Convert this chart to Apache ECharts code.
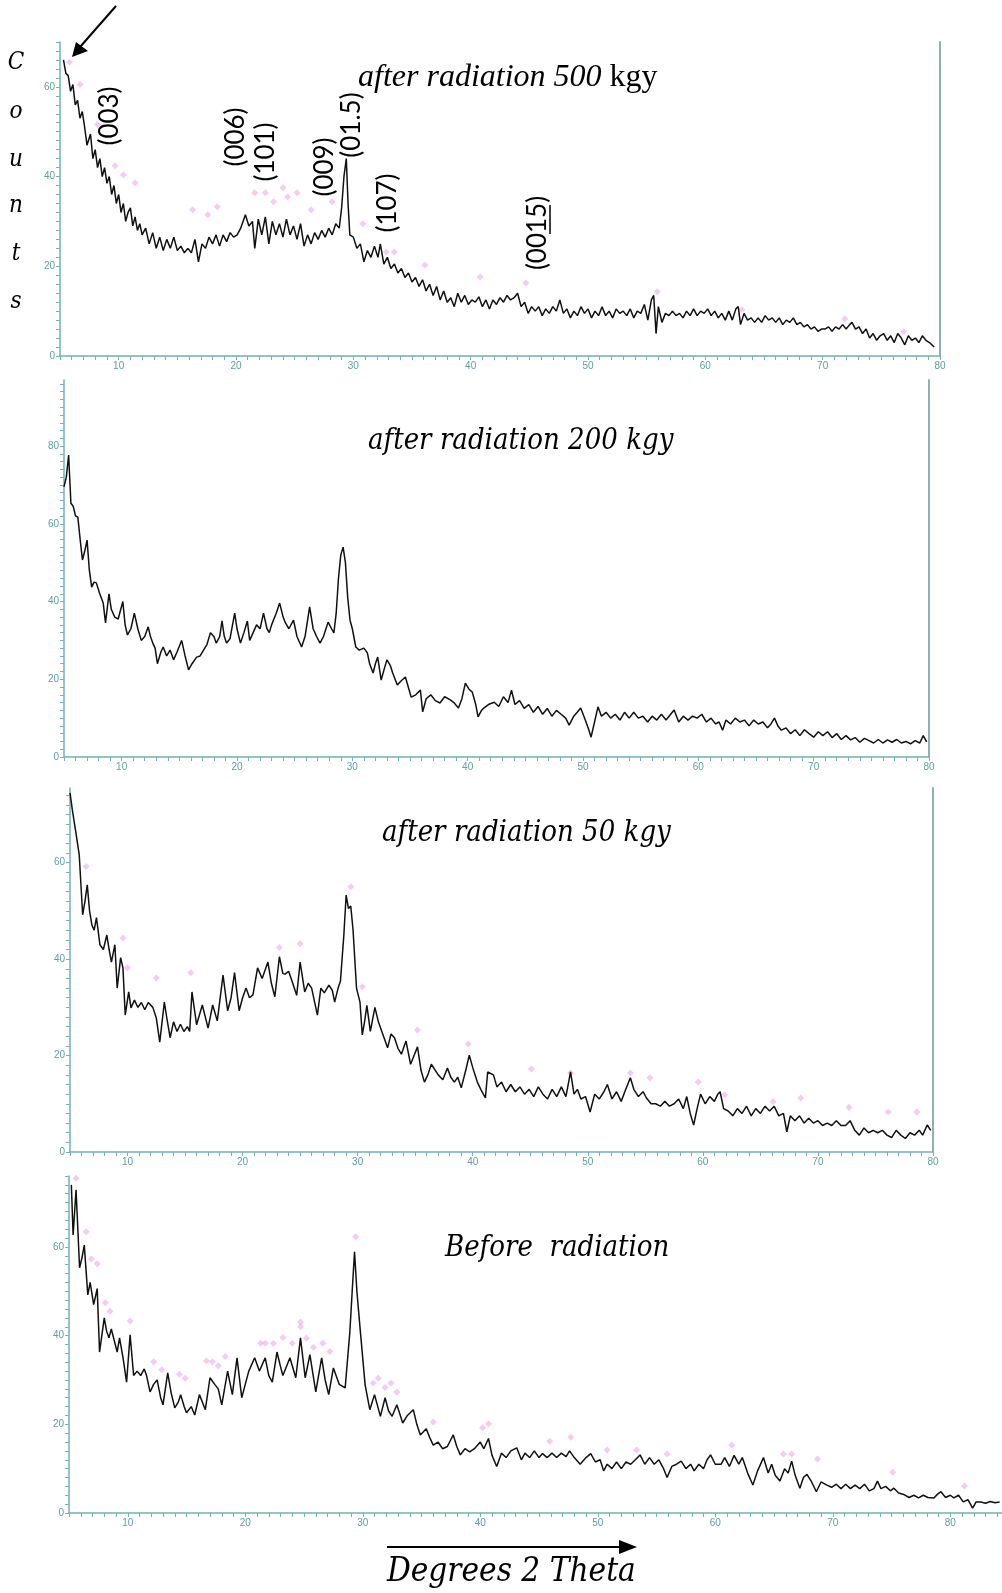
<!DOCTYPE html>
<html>
<head>
<meta charset="utf-8">
<script src="https://cdn.jsdelivr.net/npm/echarts@6/dist/echarts.min.js"></script>
<style>
  html, body { margin: 0; padding: 0; background: #ffffff; }
  #chart { width: 1002px; height: 1593px; }
</style>
</head>
<body>
<div id="chart"></div>
<script>
// XRD patterns, [2-theta (deg), counts]
const pattern500 = [
  [5.3,66],[5.5,63],[5.7,62.5],[5.9,59],[6.1,60.5],[6.3,56],[6.5,57],[6.7,53],[6.9,54.5],[7.1,51],[7.3,47],[7.6,49.5],[7.8,44],[8.0,46],[8.2,42],[8.4,44],[8.6,40],[8.8,42],[9.0,38.5],[9.2,40],[9.4,36],[9.6,38],[9.8,34],[10.0,36],[10.2,32],[10.4,34],[10.6,30],[10.8,32],[11.0,33],[11.2,29],[11.4,31],[11.6,28],[11.8,29.5],[12.0,27],[12.3,28.5],[12.6,25],[12.9,27.5],[13.2,24],[13.5,26.5],[13.8,23.5],[14.1,26],[14.4,24],[14.7,26.5],[15.0,23.5],[15.3,24.5],[15.6,23],[15.9,24],[16.2,23],[16.5,26],[16.8,21],[17.1,25],[17.4,24],[17.7,26.5],[18.0,25],[18.3,27],[18.6,24.5],[18.9,27],[19.2,25.5],[19.5,27.5],[19.8,26.5],[20.1,27],[20.4,28.5],[20.8,31.5],[21.1,29],[21.4,30],[21.6,24],[21.9,30.5],[22.2,27],[22.5,31],[22.8,25],[23.1,30],[23.4,27],[23.7,29.5],[24.0,26.5],[24.3,30.5],[24.6,27],[24.9,29],[25.2,26],[25.5,29.5],[25.8,24.5],[26.1,27],[26.4,25],[26.7,27.5],[27.0,26],[27.3,28],[27.6,26.5],[27.9,28.5],[28.2,27],[28.5,29.5],[28.8,28.5],[29.0,33],[29.2,40],[29.4,44],[29.55,34],[29.7,27],[30.0,26.5],[30.3,24],[30.6,25],[30.9,21],[31.2,23.5],[31.5,22],[31.8,24.5],[32.1,22],[32.3,25],[32.6,20.5],[32.9,22],[33.2,19.5],[33.5,20.5],[33.8,18.5],[34.1,19.5],[34.4,17.5],[34.7,18.5],[35.0,16.5],[35.3,17.5],[35.6,15.5],[35.9,17],[36.2,14.5],[36.5,16],[36.8,13.5],[37.1,15.5],[37.4,12.5],[37.7,14.5],[38.0,12],[38.3,13],[38.6,11],[38.9,14],[39.2,12],[39.5,13.5],[39.8,11.5],[40.1,12.5],[40.4,12],[40.7,13.2],[41.0,11],[41.3,12.5],[41.6,10.5],[41.9,12.5],[42.2,11.5],[42.5,13],[42.8,12],[43.1,13.5],[43.4,12.5],[43.7,13],[44.0,14],[44.3,11],[44.6,12],[44.9,9.5],[45.2,11],[45.5,10],[45.8,11],[46.1,9],[46.4,10.5],[46.7,9.5],[47.0,11],[47.3,10],[47.6,12.5],[47.9,9.5],[48.2,10.5],[48.5,8.5],[48.8,10],[49.1,9],[49.4,11],[49.7,9.5],[50.0,10.5],[50.3,8.5],[50.6,10],[50.9,9],[51.2,11],[51.5,9],[51.8,10],[52.1,8.5],[52.4,10.5],[52.7,9.5],[53.0,10],[53.3,9],[53.6,10.5],[53.9,8.5],[54.2,10],[54.5,9.5],[54.8,11.5],[55.1,8],[55.4,12.5],[55.6,13.5],[55.8,5],[56.0,11],[56.3,7.5],[56.6,9.5],[56.9,9],[57.2,10],[57.5,9],[57.8,9.5],[58.1,8.5],[58.4,10],[58.7,9],[59.0,10.5],[59.3,9],[59.6,10],[59.9,9.5],[60.2,10.5],[60.5,9],[60.8,10],[61.1,8.5],[61.4,9.5],[61.7,8],[62.0,10],[62.3,8],[62.6,10.5],[62.8,11],[63.0,7],[63.3,9.5],[63.6,8],[63.9,8.5],[64.2,7.5],[64.5,8.5],[64.8,7.5],[65.1,9],[65.4,8],[65.7,8.5],[66.0,7.5],[66.3,8.5],[66.6,7],[66.9,8],[67.2,7.5],[67.5,8.5],[67.8,7],[68.1,7.5],[68.4,6.5],[68.7,7],[69.0,6],[69.3,6.5],[69.6,5.5],[69.9,6],[70.2,6],[70.5,6.5],[70.8,5.5],[71.1,6.5],[71.4,6],[71.7,7],[72.0,6],[72.3,7],[72.5,7.5],[72.8,6],[73.1,6.5],[73.4,5],[73.7,6],[74.0,4],[74.3,5],[74.6,3.5],[74.9,4.5],[75.2,5],[75.5,3.5],[75.8,4.5],[76.1,3],[76.4,5],[76.7,4],[77.0,2.5],[77.3,4.5],[77.6,3.5],[77.9,4],[78.2,3],[78.5,4.5],[78.8,3.5],[79.1,3],[79.5,2]
];
const pattern200 = [
  [5.0,69.5],[5.2,72],[5.4,77.7],[5.6,65.3],[5.8,64.5],[6.0,62],[6.2,61.7],[6.4,56],[6.6,50.7],[6.8,53],[7.0,55.8],[7.2,48],[7.4,43.7],[7.6,45],[7.8,44.8],[8.1,42],[8.4,39.6],[8.6,34.5],[8.9,42],[9.1,38],[9.4,36],[9.7,35.5],[10.1,40],[10.3,34],[10.5,31.4],[10.8,33],[11.1,37],[11.4,33],[11.7,30],[12.0,31],[12.3,33.5],[12.5,31],[12.7,29.3],[12.9,28],[13.1,24],[13.4,27],[13.6,28.3],[13.9,26],[14.2,27.5],[14.5,25],[14.8,27],[15.2,30],[15.5,26],[15.8,22.4],[16.1,24],[16.5,25.7],[16.8,26],[17.1,27.5],[17.4,29],[17.7,32],[18.0,31],[18.2,29.3],[18.5,31],[18.7,35],[18.9,31],[19.1,29.3],[19.4,30.5],[19.8,37],[20.0,33],[20.3,29.3],[20.6,32],[20.9,35],[21.1,30],[21.4,32],[21.7,34],[22.0,33],[22.3,37],[22.6,33],[22.8,32],[23.0,34],[23.4,37],[23.7,39.6],[24.0,36],[24.2,34.5],[24.5,33],[24.9,35.2],[25.2,31],[25.6,28.3],[25.9,31],[26.3,38.6],[26.6,33],[26.9,31],[27.2,29.3],[27.5,31],[27.9,34.7],[28.2,33],[28.4,31.9],[28.6,37],[28.8,46],[29.0,52],[29.2,54],[29.4,50],[29.6,41],[29.8,35.2],[30.0,33],[30.3,28.3],[30.6,27.5],[31.0,28],[31.3,26.8],[31.5,24],[31.8,21.6],[32.0,24],[32.2,25.7],[32.5,19.8],[32.8,23],[33.0,25],[33.3,23.5],[33.5,21.6],[33.9,18.5],[34.2,19.5],[34.6,20.6],[34.9,17.5],[35.1,15.4],[35.5,16],[35.9,17.2],[36.1,11.6],[36.4,15],[36.8,16],[37.2,14.5],[37.6,13.9],[38.0,15.5],[38.5,14.7],[38.8,14],[39.2,12.6],[39.5,15],[39.8,19],[40.1,17.5],[40.4,16.7],[40.7,13.5],[40.9,10.3],[41.2,12],[41.4,12.6],[41.8,13.5],[42.3,14.1],[42.7,13],[43.1,15.5],[43.5,14],[43.8,17.2],[44.1,13.5],[44.5,14.5],[44.9,12.5],[45.3,13.5],[45.7,11.5],[46.1,13],[46.5,11],[46.9,12.5],[47.3,10.5],[47.7,12],[48.1,11],[48.5,10],[48.8,8.2],[49.2,10.5],[49.5,11.5],[49.8,12.6],[50.2,9.5],[50.5,7],[50.7,5.1],[51.0,9],[51.3,12.9],[51.6,10.5],[52.0,11.5],[52.4,10],[52.8,11],[53.2,9.5],[53.6,11.5],[54.0,10],[54.4,11.5],[54.8,10],[55.2,10.5],[55.6,9],[56.0,10.5],[56.4,9.5],[56.8,11],[57.2,9.5],[57.6,11],[57.9,12.1],[58.3,9],[58.7,10.5],[59.1,9.5],[59.5,10.5],[59.9,10],[60.3,11],[60.7,9],[61.1,10],[61.5,8.5],[61.8,9],[62.1,6.9],[62.4,9.5],[62.8,8.5],[63.2,10],[63.6,9],[64.0,9.5],[64.4,8],[64.8,9.5],[65.2,8.5],[65.6,9],[66.0,7.5],[66.3,8.5],[66.6,10],[66.9,8],[67.2,6.9],[67.6,7.5],[68.0,6],[68.4,7],[68.8,5.5],[69.2,7],[69.6,6],[70.0,5.1],[70.4,6.5],[70.8,5.5],[71.2,6.5],[71.6,5],[72.0,6],[72.4,4.5],[72.8,5.5],[73.2,4.4],[73.6,5],[74.0,3.8],[74.4,4.8],[74.8,4.2],[75.2,3.6],[75.6,4.5],[76.0,3.6],[76.4,4.4],[76.8,3.8],[77.2,4.5],[77.6,3.6],[78.0,4],[78.4,3.4],[78.8,4.2],[79.2,3.6],[79.5,5.5],[79.8,3.9]
];
const pattern50 = [
  [5.0,74.5],[5.2,71],[5.5,66.4],[5.8,61.7],[6.1,49.2],[6.3,52],[6.5,55.4],[6.7,50],[6.9,47.1],[7.1,46],[7.3,48.6],[7.6,43],[7.9,42],[8.2,45],[8.4,42],[8.6,39.4],[8.9,43],[9.1,34],[9.4,40.3],[9.6,38.2],[9.8,28.4],[10.1,33.2],[10.3,29.9],[10.6,31.5],[10.9,30],[11.2,31],[11.5,29.5],[11.8,31],[12.2,30],[12.5,27.8],[12.8,22.8],[13.2,31.1],[13.4,28],[13.7,23.7],[14.0,27],[14.3,25],[14.6,26.5],[14.9,25],[15.2,26],[15.4,25],[15.6,33.2],[16.0,26.4],[16.5,30.5],[17.0,25.7],[17.4,30.5],[17.8,27.2],[18.3,36.7],[18.7,29.3],[19.0,32],[19.3,37.2],[19.7,29.3],[20.0,32],[20.3,34],[20.6,32],[20.9,32.6],[21.3,38.2],[21.7,36],[22.2,39.4],[22.5,35],[22.8,32.2],[23.2,40.5],[23.5,37],[23.7,36.9],[24.0,37.5],[24.3,35.4],[24.7,32.5],[25.0,39.4],[25.4,33.2],[25.7,35],[26.0,34],[26.5,28.4],[26.8,34],[27.1,33],[27.5,34.6],[27.8,33.5],[28.0,31.1],[28.3,34],[28.5,35.4],[28.8,45],[29.0,53.3],[29.2,50.5],[29.4,51],[29.6,46],[29.9,34],[30.2,31.1],[30.4,24.3],[30.6,27],[30.8,30.4],[31.1,25],[31.5,30],[31.8,27],[32.1,25],[32.6,21.6],[32.9,24.5],[33.2,23.7],[33.5,21.5],[33.8,20.3],[34.2,23],[34.6,18.2],[34.9,20],[35.2,21.8],[35.5,17],[35.8,14.5],[36.1,16],[36.4,18.2],[37.0,16],[37.4,15],[37.8,17.4],[38.1,15.5],[38.4,14.5],[38.7,15.5],[39.0,13.3],[39.4,17],[39.7,20.1],[40.0,17.5],[40.4,14.5],[40.7,13],[41.1,11.2],[41.3,16.6],[41.8,16],[42.1,13.5],[42.5,14.5],[42.9,12.5],[43.3,14],[43.7,12.5],[44.1,13.5],[44.5,12],[44.9,13],[45.3,11.5],[45.7,13.5],[46.1,12],[46.5,11],[46.9,13],[47.3,11.5],[47.7,13.5],[48.1,11.5],[48.5,16.6],[48.8,12],[49.1,13],[49.4,11],[49.8,11.5],[50.2,8.3],[50.6,12],[51.0,11],[51.4,12.5],[51.7,14],[52.1,11],[52.5,12.5],[52.9,10.5],[53.3,13],[53.7,15.4],[54.0,13],[54.4,11.5],[54.8,12.5],[55.1,11.2],[55.5,10],[55.9,10],[56.3,9.5],[56.7,10.5],[57.1,9.5],[57.5,10],[57.9,11],[58.3,9],[58.6,11.5],[58.9,8],[59.2,5.6],[59.5,9],[59.8,12],[60.2,10],[60.6,11.5],[61.0,10.5],[61.3,12],[61.5,12.5],[61.8,9],[62.2,8.5],[62.6,7.5],[63.0,9],[63.4,8],[63.8,9.5],[64.2,7.5],[64.6,9],[65.0,8],[65.4,9.5],[65.8,8.5],[66.2,9.5],[66.6,7.5],[67.0,8],[67.3,4.2],[67.6,7.5],[68.0,6.5],[68.4,7.5],[68.8,6],[69.2,7],[69.6,6],[70.0,6.5],[70.4,5.5],[70.8,6],[71.2,5.5],[71.6,6.5],[72.0,5.5],[72.4,5.5],[72.8,6.5],[73.2,4.5],[73.6,3.5],[74.0,5],[74.4,4],[74.8,4.5],[75.2,4],[75.6,4.5],[76.0,3.5],[76.4,3],[76.8,4.5],[77.2,3.5],[77.6,2.8],[78.0,4],[78.4,3.5],[78.8,4.5],[79.1,3.5],[79.5,5.6],[79.8,4.5]
];
const patternBefore = [
  [5.2,74],[5.35,62.7],[5.6,72.9],[5.9,55.3],[6.1,57.5],[6.3,60.4],[6.6,49.2],[6.8,52],[7.1,47],[7.4,50.6],[7.6,36.3],[8.0,44],[8.2,41],[8.4,39.5],[8.6,41.5],[9.1,36.3],[9.3,39.5],[9.6,35],[9.9,29.5],[10.2,40.2],[10.5,31],[10.8,32],[11.1,31],[11.4,32.5],[11.6,31],[11.9,27.3],[12.2,29],[12.5,30],[12.8,26],[13.0,24.4],[13.4,31.6],[13.7,27],[14.0,23.7],[14.3,25],[14.5,26.7],[14.8,24],[15.0,22.6],[15.4,24],[15.7,22.1],[16.1,26.7],[16.6,23.3],[17.0,30.5],[17.4,29],[17.7,28],[18.0,24.4],[18.5,32],[18.9,26.7],[19.3,35],[19.7,26],[20.0,29],[20.3,32],[20.8,35],[21.2,32],[21.7,35],[22.0,31],[22.3,29.5],[22.7,36.3],[23.0,33],[23.2,31],[23.5,33],[23.8,35],[24.3,30.5],[24.7,39.5],[25.1,30.5],[25.5,35.7],[26.0,27.3],[26.5,35],[26.8,30],[27.1,26.7],[27.5,32.7],[28.0,29],[28.5,28.2],[28.9,40.8],[29.1,50],[29.3,58.9],[29.5,50],[29.8,40.8],[30.2,28.9],[30.6,23.3],[31.0,26.7],[31.5,21.8],[31.9,26],[32.2,23],[32.5,21.8],[32.9,24.4],[33.4,20.3],[33.8,22],[34.3,23.3],[34.6,20],[34.9,17.6],[35.4,19],[35.7,17],[36.0,15.3],[36.4,16],[36.8,14.5],[37.2,15],[37.7,17.6],[38.0,15],[38.3,13.1],[38.7,14.5],[39.1,13.8],[39.5,14.5],[40.0,16],[40.3,14.5],[40.7,16.8],[41.0,13],[41.4,10.5],[41.8,13.5],[42.2,12.5],[42.6,14],[43.1,14.7],[43.5,12],[43.8,13.5],[44.2,12.5],[44.6,14],[45.0,12.5],[45.3,13.4],[45.7,12.5],[46.1,13.5],[46.5,12.5],[46.9,13.5],[47.3,12.7],[47.6,14],[48.0,12.5],[48.5,11],[49.0,12.5],[49.4,13.4],[49.8,11.5],[50.2,12],[50.5,9.5],[50.8,11],[51.2,10],[51.6,11.5],[52.0,10],[52.4,11.5],[52.8,11],[53.2,12],[53.6,13.1],[54.0,11],[54.4,12.5],[54.8,11],[55.2,12],[55.6,10],[55.9,8],[56.3,10.5],[56.7,11],[57.1,11.7],[57.5,10],[57.9,11],[58.2,9.5],[58.6,11],[59.0,10],[59.3,12],[59.6,13.1],[60.0,11],[60.5,11],[60.8,12.5],[61.2,10.5],[61.6,13],[62.0,11],[62.3,12.5],[62.8,8.7],[63.2,6.3],[63.6,9.5],[64.1,12.5],[64.5,9],[64.8,11],[65.1,8.5],[65.5,7.2],[65.9,10],[66.2,9],[66.5,11.7],[66.8,8.5],[67.2,5.6],[67.5,8],[67.8,8.7],[68.2,7],[68.6,4.8],[69.0,7],[69.5,6.3],[69.9,5.8],[70.3,6.5],[70.7,5.5],[71.1,6.5],[71.5,5.5],[71.9,6.3],[72.3,5.5],[72.7,6.5],[73.1,5],[73.5,5.5],[73.8,7.2],[74.1,5.5],[74.5,6],[74.9,5],[75.2,5.6],[75.6,4.5],[76.1,4.1],[76.5,3.5],[76.9,4],[77.3,3.4],[77.7,4],[78.1,3.5],[78.6,3.4],[78.9,4.2],[79.2,4.8],[79.6,3.5],[80.0,4],[80.3,3.4],[80.7,4],[81.1,2.5],[81.5,3],[81.9,1.1],[82.2,2.5],[82.6,2.5],[83.0,2.2],[83.4,2.6],[83.8,2.3],[84.2,2.5]
];

// reference-phase peak markers
const peaks500 = [
  [5.8,65.5],[6.7,60.5],[8.2,51.6],[9.7,42.4],[10.4,40.4],[11.4,38.6],[16.3,32.6],[17.6,31.5],[18.4,33.3],[21.6,36.4],[22.5,36.4],[23.2,34.4],[24.0,37.5],[24.4,35.5],[25.2,36.4],[26.4,32.6],[28.2,34.4],[30.8,29.5],[32.8,23.2],[33.5,23.2],[36.1,20.3],[40.8,17.6],[44.7,16.3],[55.9,14.3],[63.1,10.3],[71.9,8.3],[76.9,5.4]
];
const peaks200 = [];
const peaks50 = [
  [6.4,59.2],[9.6,44.4],[10.0,38.2],[12.5,36.1],[15.5,37.2],[23.2,42.4],[25.0,43.2],[29.4,55.0],[30.4,34.3],[35.2,25.3],[39.6,22.4],[45.1,17.2],[48.5,16.4],[53.7,16.4],[55.4,15.4],[59.6,14.5],[61.9,11.8],[66.1,10.4],[68.5,11.2],[72.7,9.3],[76.1,8.3],[78.6,8.3]
];
const peaksBefore = [
  [5.6,75.5],[6.45,63.4],[6.9,57.3],[7.4,56.2],[8.1,47.4],[8.5,45.5],[10.2,43.3],[12.2,34.1],[12.9,32.3],[14.4,31.3],[14.9,30.4],[16.7,34.3],[17.2,34.1],[17.7,33.2],[18.3,35.3],[21.3,38.3],[21.7,38.3],[22.4,38.3],[23.2,39.6],[24.0,38.3],[24.7,43.1],[24.7,42],[25.2,39.4],[25.8,37.4],[26.6,38.3],[27.2,36.4],[29.4,62.3],[30.9,29.3],[31.3,30.4],[31.9,28.3],[32.4,29.3],[32.9,27.3],[36.0,20.5],[40.2,19.2],[40.7,20.1],[45.9,16.2],[47.7,17.1],[50.8,14.2],[53.3,14.2],[55.9,13.3],[61.4,15.3],[65.8,13.3],[66.5,13.3],[68.7,12.2],[75.1,9.2],[81.2,6.1]
];

// axis ticks and labels
const xLabels = [10, 20, 30, 40, 50, 60, 70, 80];
const yLabels500 = [0, 20, 40, 60];
const yLabels200 = [0, 20, 40, 60, 80];
const yLabels50 = [0, 20, 40, 60];
const yLabelsBefore = [0, 20, 40, 60];

const panels = [
  { data: pattern500, peaks: peaks500, yLabels: yLabels500, xMax: 80, yMax: 70,
    grid: { left: 60, top: 42, width: 880, height: 314 }, frame: true },
  { data: pattern200, peaks: peaks200, yLabels: yLabels200, xMax: 80, yMax: 97,
    grid: { left: 64, top: 380, width: 865, height: 377 }, frame: true },
  { data: pattern50, peaks: peaks50, yLabels: yLabels50, xMax: 80, yMax: 75.5,
    grid: { left: 70, top: 788, width: 863, height: 364 }, frame: true },
  { data: patternBefore, peaks: peaksBefore, yLabels: yLabelsBefore, xMax: 84.4, yMax: 76,
    grid: { left: 69, top: 1176, width: 933, height: 337 }, frame: false }
];

const AXIS = '#72b3b3';
const LABEL = '#5e9e9e';

function range(from, to, step) {
  const out = [];
  for (let v = from; v <= to + 1e-9; v += step) out.push(+v.toFixed(3));
  return out;
}

const grids = [], xAxes = [], yAxes = [], series = [];
panels.forEach((p, i) => {
  grids.push(Object.assign({ containLabel: false }, p.grid));
  xAxes.push({
    type: 'value', gridIndex: i, min: 5, max: p.xMax,
    axisLine: { lineStyle: { color: AXIS, width: 1.5 } },
    axisTick: { customValues: range(5, Math.floor(p.xMax), 1), length: 4, lineStyle: { color: AXIS, width: 1 } },
    axisLabel: { customValues: xLabels, color: LABEL, fontSize: 10, margin: 5, fontFamily: 'Liberation Sans' },
    splitLine: { show: false }
  });
  const yMain = yAxes.length;
  yAxes.push({
    type: 'value', gridIndex: i, min: 0, max: p.yMax,
    axisLine: { show: true, lineStyle: { color: AXIS, width: 1.5 } },
    axisTick: { show: true, customValues: range(0, Math.floor(p.yMax), 2), length: 4, lineStyle: { color: AXIS, width: 1 } },
    axisLabel: { customValues: p.yLabels, color: LABEL, fontSize: 10, margin: 5, fontFamily: 'Liberation Sans' },
    splitLine: { show: false }
  });
  if (p.frame) {
    yAxes.push({
      type: 'value', gridIndex: i, min: 0, max: p.yMax, position: 'right',
      axisLine: { show: true, lineStyle: { color: '#8fb1b1', width: 2 } },
      axisTick: { show: false }, axisLabel: { show: false }, splitLine: { show: false }
    });
  }
  series.push({
    type: 'scatter', xAxisIndex: i, yAxisIndex: yMain, data: p.peaks,
    symbol: 'diamond', symbolSize: 7, z: 1,
    itemStyle: { color: 'rgba(232,140,222,0.55)' }
  });
  series.push({
    type: 'line', xAxisIndex: i, yAxisIndex: yMain, data: p.data,
    showSymbol: false, smooth: false, z: 3,
    lineStyle: { color: '#111111', width: 1.5 }
  });
});

const serifItalic = '"DejaVu Serif Condensed", "DejaVu Serif", serif';
function hkl(text, x, y) {
  return { type: 'text', x: x, y: y, rotation: Math.PI / 2,
    style: { text: text, x: 0, y: 0, align: 'center', verticalAlign: 'middle',
      font: '26px Lato, "Open Sans", sans-serif', fill: '#000' } };
}
function title(text, x, y, size) {
  return { type: 'text', x: x, y: y,
    style: { text: text, align: 'left', verticalAlign: 'middle',
      font: 'italic ' + size + 'px ' + serifItalic, fill: '#000' } };
}

const graphic = [
  { type: 'text', x: 358, y: 78,
    style: { text: '{i|after radiation 500 }{n|kgy}', verticalAlign: 'middle',
      rich: { i: { font: 'italic 32px "Liberation Serif", serif', fill: '#000' },
              n: { font: '32px "Liberation Serif", serif', fill: '#000' } } } },
  title('after radiation 200 kgy', 368, 441, 29),
  title('after radiation 50 kgy', 382, 833, 29),
  title('Before  radiation', 445, 1248, 29),
  title('Degrees 2 Theta', 387, 1572, 33),
  hkl('(003)', 110, 116),
  hkl('(006)', 236, 137),
  hkl('(101)', 266, 152),
  hkl('(009)', 325, 167),
  hkl('(01.5)', 352, 125),
  hkl('(107)', 388, 203),
  hkl('(0015)', 538, 233),
  { type: 'line', shape: { x1: 550, y1: 205, x2: 550, y2: 234 }, style: { stroke: '#000', lineWidth: 1.5 } },
  // arrow pointing at the first peak
  { type: 'line', shape: { x1: 116, y1: 6, x2: 80, y2: 47 }, style: { stroke: '#000', lineWidth: 2 } },
  { type: 'polygon', shape: { points: [[72, 57], [76, 42], [88, 51]] }, style: { fill: '#000' } },
  // 2-theta direction arrow
  { type: 'line', shape: { x1: 387, y1: 1547, x2: 622, y2: 1547 }, style: { stroke: '#000', lineWidth: 2 } },
  { type: 'polygon', shape: { points: [[637, 1547], [619, 1540], [619, 1554]] }, style: { fill: '#000' } }
];
['C', 'o', 'u', 'n', 't', 's'].forEach((ch, k) => {
  graphic.push({ type: 'text', x: 16, y: [63, 112, 160, 206, 254, 302][k],
    style: { text: ch, align: 'center', verticalAlign: 'middle',
      font: 'italic 24px ' + serifItalic, fill: '#000' } });
});

const chart = echarts.init(document.getElementById('chart'), null, { renderer: 'canvas' });
chart.setOption({
  animation: false,
  backgroundColor: '#ffffff',
  grid: grids,
  xAxis: xAxes,
  yAxis: yAxes,
  series: series,
  graphic: graphic
});
</script>
</body>
</html>
